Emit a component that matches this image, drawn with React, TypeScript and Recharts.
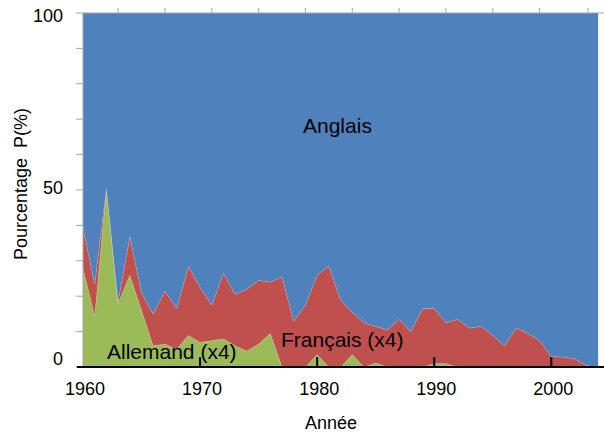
import React from "react";
import { AreaChart, Area, XAxis, YAxis } from "recharts";

// années 1960-2004
const years = [
  1960, 1961, 1962, 1963, 1964, 1965, 1966, 1967, 1968, 1969,
  1970, 1971, 1972, 1973, 1974, 1975, 1976, 1977, 1978, 1979,
  1980, 1981, 1982, 1983, 1984, 1985, 1986, 1987, 1988, 1989,
  1990, 1991, 1992, 1993, 1994, 1995, 1996, 1997, 1998, 1999,
  2000, 2001, 2002, 2003, 2004,
];

// Allemand (x4), en %
const allemand = [
  28, 14.5, 50.5, 18, 26, 16, 6, 6.5, 5, 9,
  7, 7.5, 8, 6, 4.5, 6.5, 9.5, 0, 0, 0,
  3.5, 0, 0, 3.5, 0, 1.2, 0, 0, 0, 0,
  1, 1, 0, 0, 0, 0, 0, 0, 0, 0,
  0, 0, 0, 0, 0,
];

// Français (x4), en %
const francais = [
  11.5, 9, 0, 0.5, 11, 5, 9, 15, 11.5, 19.5,
  15.5, 10, 18.5, 14.5, 17.5, 18, 14.5, 25.5, 13, 17.5,
  22.5, 28.5, 19, 12, 12.5, 10.3, 10.5, 13.5, 10, 16.5,
  15.5, 11.5, 13.5, 11, 11.5, 9, 6, 11, 9.5, 7.5,
  3, 2.8, 2.3, 0.4, 0,
];

// Anglais, en %
const anglais = [
  60.5, 76.5, 49.5, 81.5, 63, 79, 85, 78.5, 83.5, 71.5,
  77.5, 82.5, 73.5, 79.5, 78, 75.5, 76, 74.5, 87, 82.5,
  74, 71.5, 81, 84.5, 87.5, 88.5, 89.5, 86.5, 90, 83.5,
  83.5, 87.5, 86.5, 89, 88.5, 91, 94, 89, 90.5, 92.5,
  97, 97.2, 97.7, 99.6, 100,
];

const xTicks = [1960, 1970, 1980, 1990, 2000];
const yTicks = [0, 10, 20, 30, 40, 50, 60, 70, 80, 90, 100];

const FONT = "'Liberation Sans', Arial, sans-serif";

const data = years.map((year, i) => ({
  year,
  allemand: allemand[i],
  francais: francais[i],
  anglais: anglais[i],
}));

const YearTick = (props: any) => {
  const { x, y, payload } = props;
  const v = payload.value;
  return (
    <g>
      {v === 1960 ? (
        <line x1={x - 6} x2={x} y1={y} y2={y} stroke="#000" strokeWidth={2} />
      ) : (
        <line x1={x} x2={x} y1={y} y2={y - 10} stroke="#000" strokeWidth={2} />
      )}
      <text x={x + 2} y={y + 28} textAnchor="middle" fontSize={18} fontFamily={FONT} fill="#000">
        {v}
      </text>
    </g>
  );
};

// petites graduations annuelles en haut
const TopTick = (props: any) => {
  const { x, y } = props;
  return <line x1={x} x2={x} y1={y} y2={y - 5} stroke="#A6A6A6" strokeWidth={1} />;
};

// décalages des étiquettes de l'axe Y, comme sur l'original
const yLabelDy: Record<number, number> = { 100: 9, 50: 3.5, 0: -2 };

const PercentTick = (props: any) => {
  const { x, y, payload } = props;
  const v = payload.value;
  if (v % 50 !== 0) return <g />;
  return (
    <text x={x} y={y + yLabelDy[v]} textAnchor="end" fontSize={18} fontFamily={FONT} fill="#000">
      {v}
    </text>
  );
};

const App: React.FC = () => {
  return (
    <div style={{ position: "absolute", left: 0, top: 0, width: 604, height: 432, background: "#fff" }}>
      <AreaChart width={604} height={432} data={data} margin={{ top: 0, right: 0, bottom: 35, left: 0 }}>
        <Area
          type="linear"
          dataKey="allemand"
          stackId="1"
          fill="#9BBB59"
          fillOpacity={1}
          stroke="#ffffff"
          strokeOpacity={0.3}
          isAnimationActive={false}
        />
        <Area
          type="linear"
          dataKey="francais"
          stackId="1"
          fill="#C0504D"
          fillOpacity={1}
          stroke="#ffffff"
          strokeOpacity={0.3}
          isAnimationActive={false}
        />
        <Area
          type="linear"
          dataKey="anglais"
          stackId="1"
          fill="#4F81BD"
          fillOpacity={1}
          stroke="none"
          isAnimationActive={false}
        />
        {/* série invisible qui rattache l'axe du haut (graduations annuelles) */}
        <Area
          xAxisId="top"
          type="linear"
          dataKey="anglais"
          fill="none"
          stroke="none"
          activeDot={false}
          isAnimationActive={false}
        />
        <XAxis
          xAxisId="top"
          orientation="top"
          dataKey="year"
          type="number"
          domain={[1960, 2004.5]}
          ticks={years}
          height={13}
          tickSize={0}
          tickMargin={0}
          tickLine={false}
          tick={<TopTick />}
          axisLine={{ stroke: "#A6A6A6" }}
        />
        <YAxis
          type="number"
          domain={[0, 100]}
          ticks={yTicks}
          width={83}
          tickSize={7}
          tickMargin={13}
          tick={<PercentTick />}
          axisLine={{ stroke: "#A6A6A6" }}
          tickLine={{ stroke: "#A6A6A6" }}
        />
        <XAxis
          dataKey="year"
          type="number"
          domain={[1960, 2004.5]}
          ticks={xTicks}
          height={30}
          tickSize={0}
          tickMargin={0}
          tickLine={false}
          tick={<YearTick />}
          axisLine={{ stroke: "#000", strokeWidth: 2 }}
        />
        <text
          transform="translate(27,184) rotate(-90)"
          textAnchor="middle"
          fontSize={18}
          fontFamily={FONT}
          fill="#000"
        >
          {"Pourcentage\u00a0\u00a0P(%)"}
        </text>
        <text x={331} y={429} textAnchor="middle" fontSize={18} fontFamily={FONT} fill="#000">
          Année
        </text>
      </AreaChart>
      {/* étiquettes des séries, au-dessus des aires */}
      <svg
        width={604}
        height={432}
        style={{ position: "absolute", left: 0, top: 0, pointerEvents: "none" }}
      >
        <text x={303} y={133} fontSize={21} fontFamily={FONT} fill="#000">
          Anglais
        </text>
        <text x={281} y={347} fontSize={21} fontFamily={FONT} fill="#000">
          Français (x4)
        </text>
        <text x={107} y={359} fontSize={21} fontFamily={FONT} fill="#000">
          Allemand (x4)
        </text>
      </svg>
    </div>
  );
};

export default App;
